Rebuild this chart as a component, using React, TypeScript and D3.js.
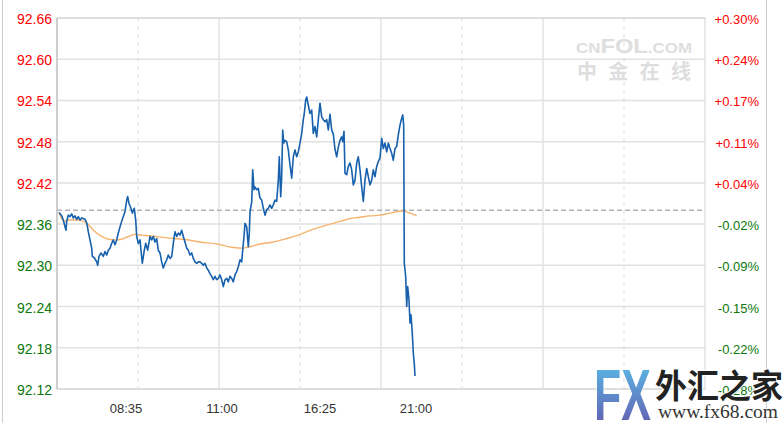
import * as d3 from "d3";
import { useEffect, useRef } from "react";

// slot index along the session axis (0..648) and last price
const PRICE: [number, number][] = [
    [2, 92.377], [4.7, 92.372], [6.3, 92.366], [8, 92.356], [9, 92.351], [9.7, 92.364], [11.3, 92.373],
    [13, 92.371], [14.7, 92.375], [16.3, 92.369], [18, 92.372], [19.7, 92.367], [21.3, 92.371], [23, 92.366],
    [24.7, 92.369], [28, 92.367], [29.7, 92.362], [31.3, 92.349], [33, 92.337], [34.7, 92.325], [35.3, 92.313],
    [37.3, 92.311], [39.7, 92.305], [40.7, 92.300], [42, 92.313], [44, 92.318], [46.3, 92.313], [48, 92.320],
    [49.7, 92.315], [51.3, 92.322], [53, 92.325], [54.7, 92.332], [56.3, 92.337], [58, 92.330], [59.7, 92.337],
    [61.3, 92.347], [63, 92.356], [64.7, 92.364], [66.3, 92.371], [68, 92.378], [69.7, 92.395], [70.7, 92.400],
    [72, 92.390], [74, 92.383], [75.3, 92.376], [77.3, 92.383], [78.7, 92.366], [79.7, 92.342], [81.3, 92.332],
    [83, 92.337], [84, 92.322], [85.3, 92.303], [87.3, 92.322], [88.7, 92.332], [90.7, 92.322], [93, 92.342],
    [94.7, 92.337], [96.3, 92.342], [98, 92.334], [99.7, 92.339], [101.3, 92.322], [103, 92.318], [104.7, 92.305],
    [106.3, 92.296], [108, 92.303], [109.7, 92.308], [111.3, 92.315], [113, 92.310], [114.7, 92.313],
    [116.3, 92.332], [118, 92.349], [119.7, 92.342], [121.3, 92.347], [123, 92.344], [124.7, 92.351],
    [126.3, 92.342], [128, 92.334], [129.7, 92.325], [131.3, 92.322], [133, 92.315], [134.7, 92.318],
    [136.3, 92.310], [138, 92.305], [139.7, 92.303], [141.3, 92.305], [143, 92.305], [144.7, 92.303],
    [146.3, 92.300], [148, 92.303], [149.7, 92.296], [151.3, 92.293], [153, 92.288], [154.7, 92.284],
    [156.3, 92.279], [158, 92.284], [159.7, 92.279], [161.3, 92.281], [163, 92.286], [164.7, 92.279],
    [166.3, 92.269], [168, 92.279], [169.7, 92.281], [171.3, 92.276], [173, 92.284], [174.7, 92.281],
    [176.3, 92.276], [178, 92.286], [179.7, 92.291], [181.3, 92.298], [183, 92.308], [184.7, 92.305],
    [185.7, 92.322], [187, 92.342], [188, 92.361], [189.7, 92.356], [191.3, 92.327], [192.3, 92.347],
    [193, 92.378], [194.7, 92.392], [195.7, 92.439], [197, 92.410], [198, 92.414], [199.7, 92.410],
    [201.3, 92.412], [203, 92.398], [204.7, 92.395], [206.3, 92.383], [208, 92.373], [209.7, 92.381],
    [211.3, 92.383], [213, 92.388], [214.7, 92.383], [216.3, 92.388], [218, 92.395], [219.7, 92.393],
    [221.3, 92.424], [222.3, 92.458], [223.7, 92.400], [224.7, 92.429], [225.7, 92.497], [226.7, 92.478],
    [228, 92.482], [229.7, 92.480], [231.3, 92.468], [233, 92.446], [234.7, 92.427], [236.3, 92.458],
    [238, 92.468], [239.7, 92.458], [241.3, 92.465], [243, 92.478], [244.7, 92.492], [246.3, 92.512],
    [247.3, 92.521], [248.7, 92.541], [249.7, 92.545], [251.3, 92.533], [253, 92.521], [254.7, 92.526],
    [256.3, 92.492], [258, 92.502], [259.7, 92.487], [261.3, 92.512], [263, 92.536], [264.7, 92.516],
    [266.3, 92.512], [268, 92.509], [269.7, 92.512], [271.3, 92.497], [273, 92.520], [274.7, 92.497],
    [276.3, 92.491], [278, 92.469], [279.7, 92.458], [281.3, 92.472], [283, 92.482], [284.7, 92.487],
    [285.7, 92.480], [287, 92.495], [288, 92.434], [289.7, 92.432], [291.3, 92.444], [293, 92.449],
    [294.7, 92.439], [296.3, 92.417], [298, 92.424], [299.7, 92.449], [301.3, 92.458], [303, 92.439],
    [304.7, 92.414], [306.3, 92.393], [308, 92.424], [309.7, 92.441], [311.3, 92.429], [313, 92.417],
    [314.7, 92.424], [316.3, 92.439], [318, 92.429], [319.7, 92.444], [321.3, 92.451], [323, 92.456],
    [324.7, 92.485], [326.3, 92.470], [328, 92.478], [329.7, 92.465], [331.3, 92.478], [333, 92.470],
    [334.7, 92.463], [336.3, 92.453], [338, 92.470], [339.7, 92.473], [341.3, 92.490], [343, 92.504],
    [344.7, 92.514], [345.7, 92.519], [346.7, 92.504], [347.3, 92.303], [348.7, 92.283], [349.7, 92.240],
    [350.7, 92.269], [352, 92.250], [353, 92.216], [354, 92.228], [355.3, 92.201], [356.3, 92.172],
    [357.3, 92.157], [358, 92.139],
];

// running average price
const AVERAGE: [number, number][] = [
    [2, 92.377], [4.7, 92.368], [8, 92.364], [11.3, 92.366], [18, 92.366], [24.7, 92.365], [29.7, 92.361],
    [34.7, 92.354], [39.7, 92.347], [44.7, 92.342], [51.3, 92.338], [58, 92.337], [64.7, 92.338],
    [71.3, 92.342], [78, 92.345], [84.7, 92.344], [93, 92.343], [109.7, 92.340], [126.3, 92.338],
    [143, 92.334], [159.7, 92.331], [176.3, 92.326], [184.7, 92.325], [193, 92.327], [203, 92.331],
    [216.3, 92.334], [229.7, 92.339], [241.3, 92.344], [253, 92.351], [266.3, 92.357], [283, 92.364],
    [293, 92.368], [303, 92.370], [313, 92.372], [323, 92.373], [333, 92.376], [346.3, 92.379],
    [353, 92.376], [359.7, 92.372],
];

const PREV_CLOSE = 92.38;
const TOTAL_SLOTS = 648;
const PRICE_TICKS = [92.12, 92.18, 92.24, 92.30, 92.36, 92.42, 92.48, 92.54, 92.60, 92.66];
const PCT_LABELS = ["-0.28%", "-0.22%", "-0.15%", "-0.09%", "-0.02%", "+0.04%", "+0.11%", "+0.17%", "+0.24%", "+0.30%"];
const TIME_LABELS = ["08:35", "11:00", "16:25", "21:00"];
const TIME_SLOTS = [69, 165, 263, 359];
const GRID_SLOTS = d3.range(0, TOTAL_SLOTS + 1, 81);

const RED = "#ff0000";
const GREEN = "#0a780a";

const IntradayChart: React.FC = () => {
    const svgRef = useRef<SVGSVGElement | null>(null);

    useEffect(() => {
        if (!svgRef.current) return;
        const width = 784, height = 423;
        const margin = { top: 18, right: 79, bottom: 34, left: 57 };

        const svg = d3.select(svgRef.current)
            .attr("width", width)
            .attr("height", height);
        svg.selectAll("*").remove();

        const x = d3.scaleLinear().domain([0, TOTAL_SLOTS]).range([margin.left, width - margin.right]);
        const y = d3.scaleLinear().domain([92.12, 92.66]).range([height - margin.bottom, margin.top]);

        // outer frame
        svg.append("line").attr("x1", 2.5).attr("x2", 2.5).attr("y1", 0).attr("y2", height)
            .attr("stroke", "#cccccc");
        svg.append("line").attr("x1", 766.5).attr("x2", 766.5).attr("y1", 0).attr("y2", height)
            .attr("stroke", "#cccccc");

        // watermark
        const wm = svg.append("g").attr("fill", "#dedede").attr("font-family", "Liberation Sans, Arial, sans-serif")
            .attr("font-weight", "bold");
        const brand = wm.append("text").attr("x", 576).attr("y", 53)
            .attr("textLength", 116).attr("lengthAdjust", "spacingAndGlyphs");
        brand.append("tspan").attr("font-size", 15).text("CN");
        brand.append("tspan").attr("font-size", 21).text("FOL");
        brand.append("tspan").attr("font-size", 15).text(".COM");
        wm.append("text").attr("x", 577).attr("y", 79).attr("font-size", 20)
            .attr("font-family", "Noto Sans CJK SC, sans-serif")
            .attr("textLength", 114).attr("lengthAdjust", "spacing")
            .text("中金在线");

        // horizontal grid
        svg.append("g").selectAll("line").data(PRICE_TICKS).join("line")
            .attr("x1", x(0)).attr("x2", x(TOTAL_SLOTS))
            .attr("y1", d => y(d)).attr("y2", d => y(d))
            .attr("stroke", "#e1e1e1").attr("stroke-width", 1.5);

        // vertical grid, alternating dashed / solid
        svg.append("g").selectAll("line").data(GRID_SLOTS.slice(1, -1)).join("line")
            .attr("x1", d => x(d)).attr("x2", d => x(d))
            .attr("y1", y(92.66)).attr("y2", y(92.12))
            .attr("stroke", (d, i) => i % 2 === 0 ? "#dddddd" : "#e3e3e3")
            .attr("stroke-width", (d, i) => i % 2 === 0 ? 1 : 1.5)
            .attr("stroke-dasharray", (d, i) => i % 2 === 0 ? "4,4" : null);

        // plot frame
        svg.append("rect")
            .attr("x", x(0)).attr("y", y(92.66))
            .attr("width", x(TOTAL_SLOTS) - x(0)).attr("height", y(92.12) - y(92.66))
            .attr("fill", "none").attr("stroke", "#d4d4d4");
        svg.append("line").attr("x1", x(0)).attr("x2", x(0)).attr("y1", y(92.66)).attr("y2", y(92.12))
            .attr("stroke", "#bdbdbd").attr("stroke-width", 1.2);

        // previous close reference
        svg.append("line")
            .attr("x1", x(0)).attr("x2", x(TOTAL_SLOTS))
            .attr("y1", y(PREV_CLOSE)).attr("y2", y(PREV_CLOSE))
            .attr("stroke", "#b4b4b4").attr("stroke-width", 1.5).attr("stroke-dasharray", "5,3");

        // average line
        const avgLine = d3.line<[number, number]>()
            .x(d => x(d[0])).y(d => y(d[1]))
            .curve(d3.curveMonotoneX);
        svg.append("path").datum(AVERAGE)
            .attr("d", avgLine)
            .attr("fill", "none").attr("stroke", "#f6b36e").attr("stroke-width", 1.4);

        // price line
        const priceLine = d3.line<[number, number]>()
            .x(d => x(d[0])).y(d => y(d[1]));
        svg.append("path").datum(PRICE)
            .attr("d", priceLine)
            .attr("fill", "none").attr("stroke", "#1660ad").attr("stroke-width", 1.6)
            .attr("stroke-linejoin", "round");

        // left price labels
        svg.append("g").selectAll("text").data(PRICE_TICKS).join("text")
            .attr("x", 52).attr("y", d => y(d) + 6)
            .attr("text-anchor", "end")
            .attr("font-family", "Liberation Sans, Arial, sans-serif").attr("font-size", 14)
            .attr("fill", d => d > PREV_CLOSE ? RED : GREEN)
            .text(d => d.toFixed(2));

        // right percent labels
        svg.append("g").selectAll("text").data(PCT_LABELS).join("text")
            .attr("x", 759).attr("y", (d, i) => y(PRICE_TICKS[i]) + 6)
            .attr("text-anchor", "end")
            .attr("font-family", "Liberation Sans, Arial, sans-serif").attr("font-size", 13)
            .attr("fill", d => d.startsWith("+") ? RED : GREEN)
            .text(d => d);

        // time labels
        svg.append("g").selectAll("text").data(TIME_LABELS).join("text")
            .attr("x", (d, i) => x(TIME_SLOTS[i])).attr("y", 413)
            .attr("text-anchor", "middle")
            .attr("font-family", "Liberation Sans, Arial, sans-serif").attr("font-size", 13)
            .attr("fill", "#333333")
            .text(d => d);

        // fx68 logo
        const defs = svg.append("defs");
        const grad = defs.append("linearGradient").attr("id", "fxGrad")
            .attr("x1", 0).attr("y1", 0).attr("x2", 0).attr("y2", 1);
        grad.append("stop").attr("offset", "0%").attr("stop-color", "#58c4ee");
        grad.append("stop").attr("offset", "100%").attr("stop-color", "#6552a8");

        const logo = svg.append("g");
        logo.append("text").attr("x", 594).attr("y", 420)
            .attr("font-family", "Liberation Sans, Arial, sans-serif").attr("font-weight", "bold")
            .attr("font-size", 72).attr("textLength", 57).attr("lengthAdjust", "spacingAndGlyphs")
            .attr("fill", "url(#fxGrad)").attr("stroke", "#ffffff").attr("stroke-width", 1.5)
            .attr("paint-order", "stroke")
            .text("FX");
        logo.append("text").attr("x", 655).attr("y", 398)
            .attr("font-family", "Noto Sans CJK SC, sans-serif").attr("font-weight", "bold")
            .attr("font-size", 33).attr("textLength", 128).attr("lengthAdjust", "spacingAndGlyphs")
            .attr("fill", "#222222").attr("stroke", "#ffffff").attr("stroke-width", 2)
            .attr("paint-order", "stroke")
            .text("外汇之家");
        logo.append("text").attr("x", 658).attr("y", 418)
            .attr("font-family", "Liberation Serif, Times New Roman, serif")
            .attr("font-size", 18).attr("textLength", 120).attr("lengthAdjust", "spacingAndGlyphs")
            .attr("fill", "#333333").attr("stroke", "#ffffff").attr("stroke-width", 1.5)
            .attr("paint-order", "stroke")
            .text("www.fx68.com");
    }, []);

    return <svg ref={svgRef} style={{ position: "absolute", left: 0, top: 0, display: "block" }} />;
};

export default function App() {
    return <IntradayChart />;
}
